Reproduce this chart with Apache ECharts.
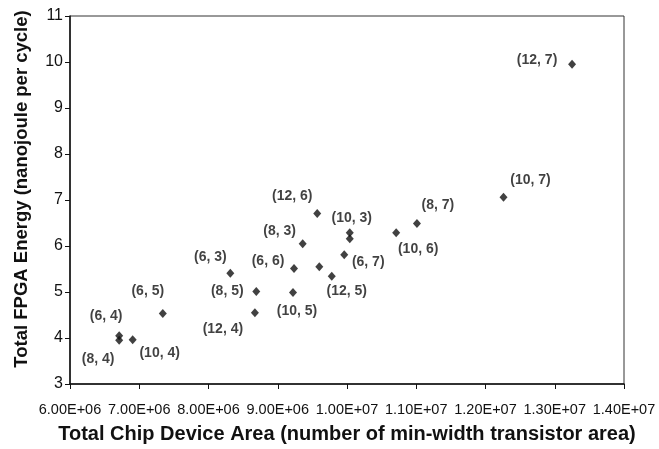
<!DOCTYPE html>
<html>
<head>
<meta charset="utf-8">
<script src="https://cdn.jsdelivr.net/npm/echarts@6/dist/echarts.min.js"></script>
<style>html,body{margin:0;padding:0;background:#fff}#c{width:659px;height:449px}</style>
</head>
<body>
<div id="c"></div>
<script>
const pointLabels = ['(12, 7)','(10, 7)','(8, 7)','(10, 6)','(12, 6)','(10, 3)','','(8, 3)','(6, 7)','(6, 6)','','(12, 5)','(6, 3)','(8, 5)','(10, 5)','(12, 4)','(6, 5)','(6, 4)','(8, 4)','(10, 4)'];
const areaValues = [13.25e6, 12.26e6, 11.01e6, 10.71e6, 9.57e6, 10.04e6, 10.04e6, 9.36e6, 9.96e6, 9.235e6, 9.60e6, 9.78e6, 8.315e6, 8.69e6, 9.22e6, 8.67e6, 7.34e6, 6.71e6, 6.71e6, 6.905e6];
const energyValues = [9.95, 7.06, 6.49, 6.29, 6.705, 6.29, 6.16, 6.05, 5.81, 5.51, 5.55, 5.34, 5.41, 5.01, 4.99, 4.55, 4.53, 4.05, 3.95, 3.96];
const xTickLabels = ['6.00E+06','7.00E+06','8.00E+06','9.00E+06','1.00E+07','1.10E+07','1.20E+07','1.30E+07','1.40E+07'];
const yTickLabels = ['3','4','5','6','7','8','9','10','11'];
const labelOffsets = [[-35,-4],[27,-17],[21,-18],[22,16],[-25,-17],[2,-15],[0,0],[-23,-13],[24,7],[-26,-7],[0,0],[15,15],[-20,-16],[-29,0],[4,19],[-32,16],[-15,-22],[-13,-20],[-21,19],[27,13]];

const font = "'Liberation Sans', Arial, Helvetica, sans-serif";
const data = areaValues.map((x, i) => ({
  value: [x, energyValues[i]],
  label: { show: pointLabels[i] !== '', formatter: pointLabels[i], position: 'inside', offset: labelOffsets[i] }
}));

const chart = echarts.init(document.getElementById('c'));
chart.setOption({
  animation: false,
  grid: { left: 70, right: 35, top: 16, bottom: 61, show: true, borderColor: '#333', borderWidth: 1 },
  xAxis: {
    type: 'value', min: 6e6, max: 14e6, interval: 1e6,
    splitLine: { show: false },
    axisLine: { show: true, lineStyle: { color: '#111', width: 1.5 } },
    axisTick: { show: true, length: 5, lineStyle: { color: '#111' } },
    axisLabel: { color: '#111', fontSize: 14.5, fontFamily: font, margin: 18,
      formatter: (v) => xTickLabels[Math.round((v - 6e6) / 1e6)] },
    name: 'Total Chip Device Area (number of min-width transistor area)',
    nameLocation: 'middle', nameGap: 40,
    nameTextStyle: { color: '#111', fontSize: 20, fontWeight: 'bold', fontFamily: font }
  },
  yAxis: {
    type: 'value', min: 3, max: 11, interval: 1,
    splitLine: { show: false },
    axisLine: { show: true, lineStyle: { color: '#111', width: 1.5 } },
    axisTick: { show: true, length: 5, lineStyle: { color: '#111' } },
    axisLabel: { color: '#111', fontSize: 16, fontFamily: font, margin: 7,
      formatter: (v) => yTickLabels[Math.round(v - 3)] },
    name: 'Total FPGA Energy (nanojoule per cycle)',
    nameLocation: 'middle', nameGap: 39,
    nameTextStyle: { color: '#111', fontSize: 18.5, fontWeight: 'bold', fontFamily: font, padding: [0, 0, 0, 22] }
  },
  series: [{
    type: 'scatter',
    symbol: 'diamond',
    symbolSize: [8, 9],
    itemStyle: { color: '#111' },
    label: { color: '#111', fontSize: 14, fontWeight: 'bold', fontFamily: font },
    data: data
  }]
});
</script>
</body>
</html>
